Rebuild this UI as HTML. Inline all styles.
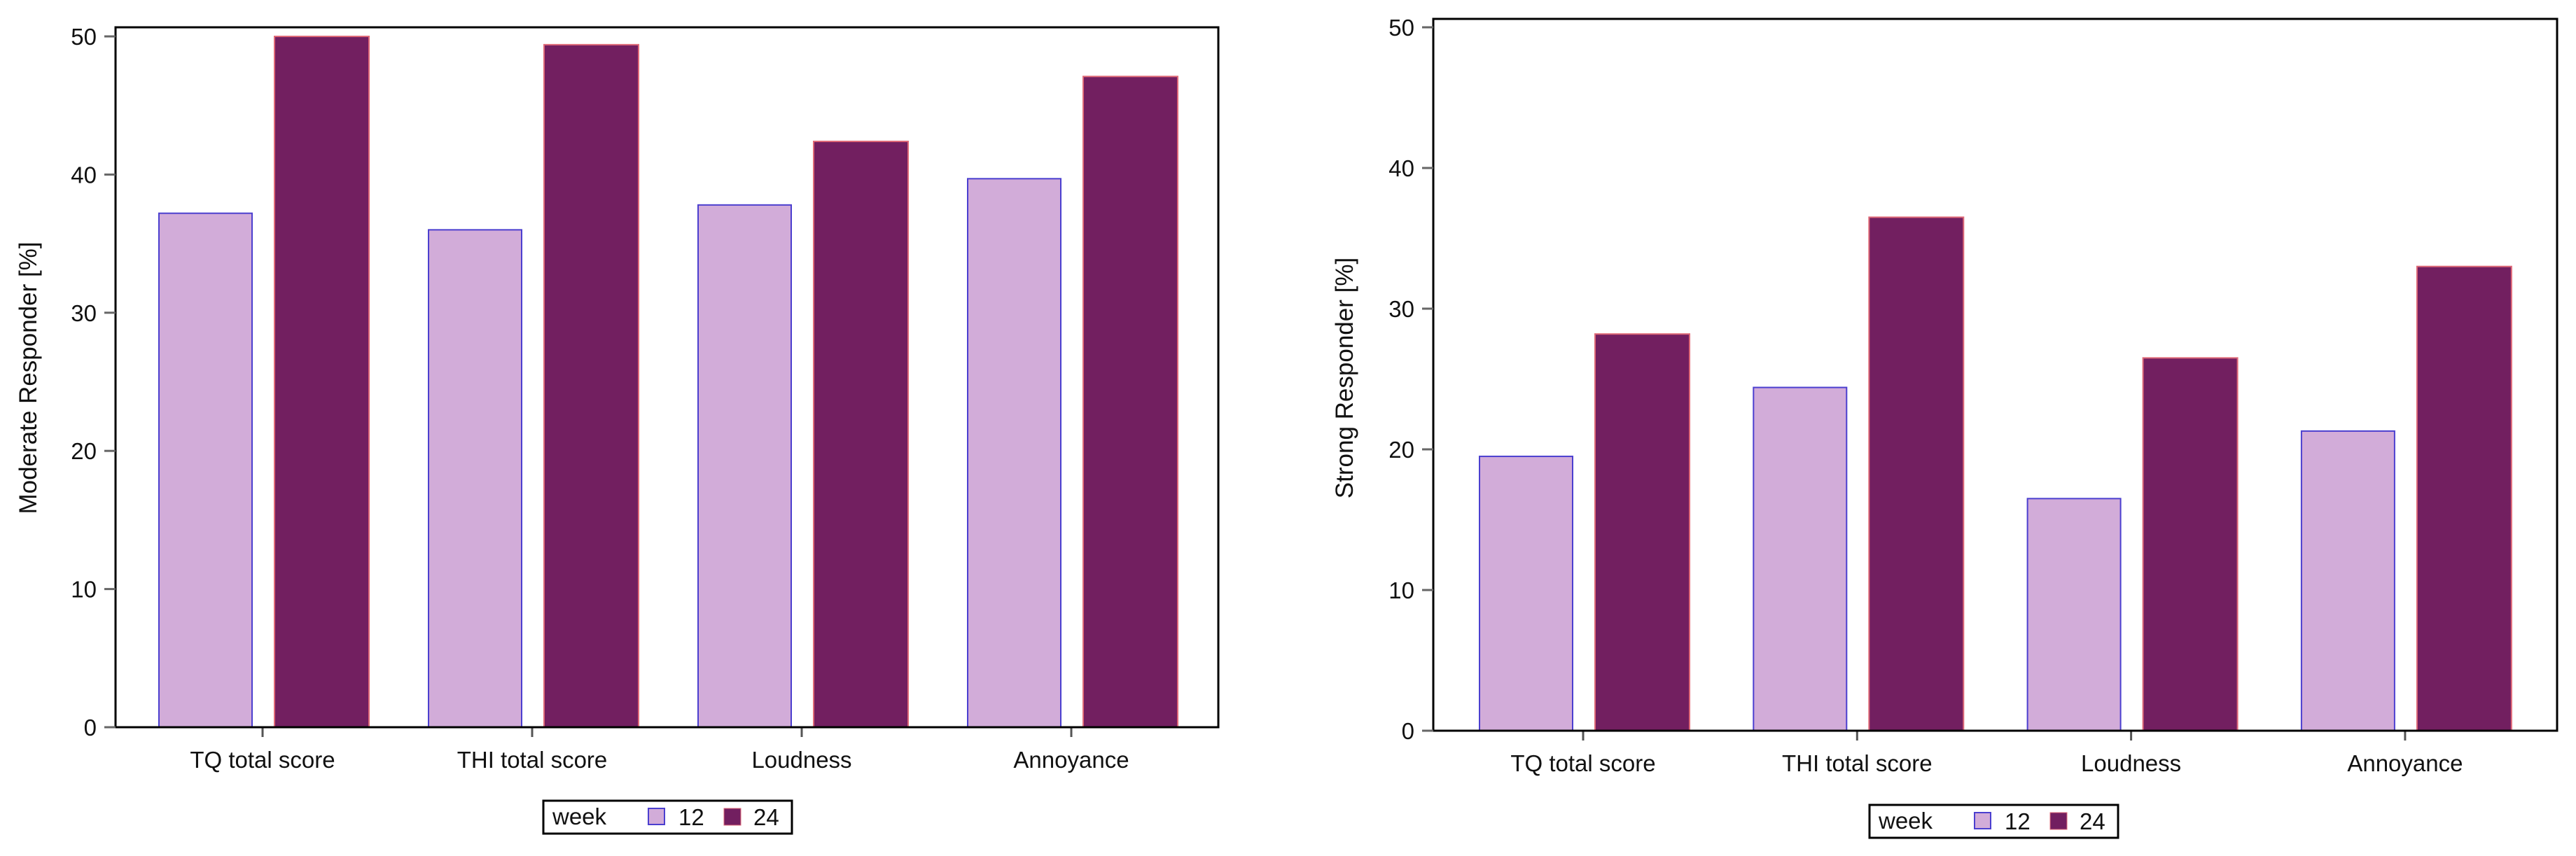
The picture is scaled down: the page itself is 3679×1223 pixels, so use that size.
<!DOCTYPE html>
<html><head><meta charset="utf-8"><style>
html,body{margin:0;padding:0;background:#fff}
svg{display:block}
text{font-family:"Liberation Sans",Arial,sans-serif;fill:#111}
</style></head><body>
<svg id="fig" width="3679" height="1223" viewBox="0 0 3679 1223" xmlns="http://www.w3.org/2000/svg"></svg>
<script>
const categories = ["TQ total score","THI total score","Loudness","Annoyance"];
const moderateWeek12 = [37.2, 36.0, 37.8, 39.7];
const moderateWeek24 = [50.0, 49.4, 42.4, 47.1];
const strongWeek12 = [19.5, 24.4, 16.5, 21.3];
const strongWeek24 = [28.2, 36.5, 26.5, 33.0];
const yTicks = [0,10,20,30,40,50];
const legendLabels = ["12","24"];

const NS = "http://www.w3.org/2000/svg";
const svg = document.getElementById('fig');
function mk(tag, attrs, parent){
  const e = document.createElementNS(NS, tag);
  for (const k in attrs) e.setAttribute(k, attrs[k]);
  (parent||svg).appendChild(e);
  return e;
}
const C12 = {fill:"#d2acd9", stroke:"#4b3fcf"};
const C24 = {fill:"#721f60", stroke:"#df6a78"};

function drawChart(cfg){
  const g = mk('g', {});
  
  
  const y = v => cfg.base - v * (cfg.base - cfg.y50) / 50;
  const xc = i => cfg.firstTick + i * cfg.spacing;
  categories.forEach((c, i) => {
    const h1 = y(0) - y(cfg.s12[i]);
    const b1 = mk('rect', {x: xc(i) - 15 - 133, y: y(cfg.s12[i]), width: 133, height: h1, fill: C12.fill, stroke: C12.stroke, 'stroke-width': 2}, g);
    
    
    const h2 = y(0) - y(cfg.s24[i]);
    const b2 = mk('rect', {x: xc(i) + 17, y: y(cfg.s24[i]), width: 135, height: h2, fill: C24.fill, stroke: C24.stroke, 'stroke-width': 2}, g);
    
    
    const tk = mk('line', {x1: xc(i), x2: xc(i), y1: cfg.base, y2: cfg.base + 14, stroke: '#555', 'stroke-width': 3}, g);
    
    
    const t = mk('text', {x: xc(i), y: cfg.base + 58, 'font-size': 33, 'text-anchor': 'middle'}, g);
    t.textContent = c;
    
    
  });
  const fr = mk('rect', {x: cfg.left, y: cfg.top, width: cfg.right - cfg.left, height: cfg.base - cfg.top, fill: 'none', stroke: '#000', 'stroke-width': 3}, g);
  
  
  yTicks.forEach(v => {
    const l = mk('line', {x1: cfg.left - 16, x2: cfg.left, y1: y(v), y2: y(v), stroke: '#666', 'stroke-width': 3}, g);
    
    
    const t = mk('text', {x: cfg.left - 27, y: y(v) + 12, 'font-size': 33, 'text-anchor': 'end'}, g);
    t.textContent = v;
    
    
  });
  const yt = mk('text', {x: cfg.titleX, y: 540, 'font-size': 35, 'text-anchor': 'middle', transform: 'rotate(-90 ' + cfg.titleX + ' 540)'}, g);
  yt.textContent = cfg.title;
  
  
  const L = cfg.legX, T = cfg.legY;
  const lg = mk('g', {}, g);
  
  
  mk('rect', {x: L, y: T, width: 355, height: 47, fill: '#fff', stroke: '#000', 'stroke-width': 3}, lg);
  const wt = mk('text', {x: L + 13, y: T + 34, 'font-size': 33}, lg);
  wt.textContent = 'week';
  
  
  const sw1 = mk('rect', {x: L + 150, y: T + 11, width: 23, height: 23, fill: C12.fill, stroke: C12.stroke, 'stroke-width': 2}, lg);
  
  
  const t1 = mk('text', {x: L + 193, y: T + 35, 'font-size': 33}, lg);
  t1.textContent = legendLabels[0];
  
  
  const sw2 = mk('rect', {x: L + 258, y: T + 11, width: 24, height: 24, fill: C24.fill, stroke: C24.stroke, 'stroke-width': 1}, lg);
  
  
  const t2 = mk('text', {x: L + 300, y: T + 35, 'font-size': 33}, lg);
  t2.textContent = legendLabels[1];
  
  
}

drawChart({name:'moderate-responder-chart', s12: moderateWeek12, s24: moderateWeek24,
  left:165, right:1740, top:39, base:1039, y50:52, firstTick:375, spacing:385,
  title:'Moderate Responder [%]', titleX:52, legX:776, legY:1144});
drawChart({name:'strong-responder-chart', s12: strongWeek12, s24: strongWeek24,
  left:2047, right:3652, top:27, base:1044, y50:39, firstTick:2261, spacing:391.3,
  title:'Strong Responder [%]', titleX:1932, legX:2670, legY:1150});
</script>
</body></html>
